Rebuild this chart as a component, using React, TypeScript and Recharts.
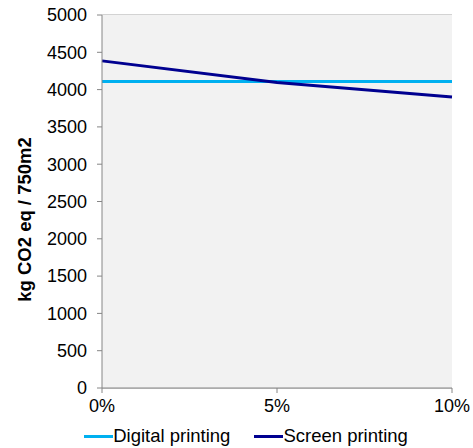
import { LineChart, Line, XAxis, YAxis, CartesianGrid, Legend, Label } from 'recharts'

const shares = [0, 5, 10]
const digitalPrinting = [4110, 4110, 4110]
const screenPrinting = [4385, 4095, 3900]
const yTicks = [0, 500, 1000, 1500, 2000, 2500, 3000, 3500, 4000, 4500, 5000]
const xTicks = [0, 5, 10]

const data = shares.map((share, i) => ({
  share,
  digital: digitalPrinting[i],
  screen: screenPrinting[i],
}))

const FONT = '"Liberation Sans", Arial, sans-serif'

function LegendContent({ payload }: { payload?: Array<{ value: string; color: string }> }) {
  if (!payload) return null
  return (
    <div style={{ display: 'flex', justifyContent: 'center', gap: 24, paddingLeft: 40, fontFamily: FONT, fontSize: 18.5, color: '#000' }}>
      {payload.map((entry) => (
        <div key={entry.value} style={{ display: 'flex', alignItems: 'center' }}>
          <div style={{ width: 29, height: 3, background: entry.color }} />
          <span>{entry.value}</span>
        </div>
      ))}
    </div>
  )
}

export default function App() {
  return (
    <div style={{ position: 'absolute', left: 0, top: 0, width: 473, height: 448, background: '#fff' }}>
      <LineChart width={473} height={448} data={data} margin={{ top: 15, right: 21, left: 0, bottom: 0 }}>
        <rect x={102} y={15} width={350} height={373} fill="#f2f2f2" />
        <CartesianGrid vertical={false} stroke="#a6a6a6" strokeWidth={1} fill="#f2f2f2" />
        <XAxis
          dataKey="share"
          type="number"
          domain={[0, 10]}
          ticks={xTicks}
          tickFormatter={(v: number) => `${v}%`}
          stroke="#868686"
          tickSize={5}
          tickMargin={6}
          height={37}
          tick={{ fontSize: 18, fill: '#000', fontFamily: FONT }}
        />
        <YAxis
          domain={[0, 5000]}
          ticks={yTicks}
          interval={0}
          stroke="#868686"
          tickSize={5}
          tickMargin={10}
          width={102}
          tick={{ fontSize: 18, fill: '#000', fontFamily: FONT }}
        >
          <Label
            content={({ viewBox }: any) => (
              <text
                x={24}
                y={viewBox.y + viewBox.height / 2 + 18}
                transform={`rotate(-90 24 ${viewBox.y + viewBox.height / 2 + 18})`}
                textAnchor="middle"
                dominantBaseline="central"
                fontFamily={FONT}
                fontSize={18.5}
                fontWeight="bold"
                fill="#000"
              >
                kg CO2 eq / 750m2
              </text>
            )}
          />
        </YAxis>
        <Legend verticalAlign="bottom" height={23} content={<LegendContent />} />
        <Line dataKey="digital" name="Digital printing" stroke="#00b0f0" strokeWidth={3} dot={false} isAnimationActive={false} />
        <Line dataKey="screen" name="Screen printing" stroke="#000090" strokeWidth={3} dot={false} isAnimationActive={false} />
      </LineChart>
    </div>
  )
}
